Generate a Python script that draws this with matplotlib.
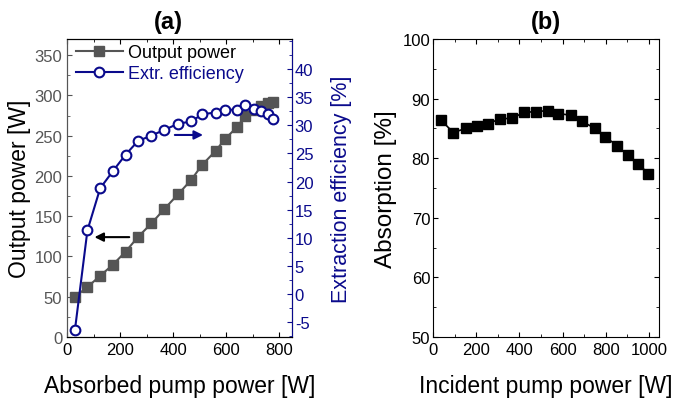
import matplotlib
matplotlib.use('Agg')  # no display

import matplotlib.pyplot as plt
from matplotlib import ticker

plt.rcParams.update({
    "font.family": ["Liberation Sans", "DejaVu Sans"],
    "axes.unicode_minus": False,
    "xtick.direction": "in",
    "ytick.direction": "in",
    "xtick.labelsize": 12,
    "ytick.labelsize": 12,
})

# (a) output power and extraction efficiency vs absorbed pump power
absorbed_pump = [30, 77, 125, 172, 221, 267, 318, 367, 418, 468, 510, 560,
                 596, 642, 670, 705, 731, 756, 777]
output_power = [50, 62, 76, 89.5, 106, 124, 141, 159, 177, 195, 214, 231,
                246, 261, 274, 282, 287, 290, 292]
extr_eff = [-6.4, 11.3, 18.8, 21.8, 24.8, 27.2, 28.2, 29.2, 30.3, 30.7, 32.0,
            32.3, 32.8, 32.8, 33.6, 32.9, 32.6, 32.0, 31.1]
eff_ticks = [-5, 0, 5, 10, 15, 20, 25, 30, 35, 40]

# (b) absorption vs incident pump power
incident_pump = [37, 94, 151, 202, 256, 310, 367, 421, 475, 534, 580, 639,
                 688, 750, 796, 853, 901, 951, 997]
absorption = [86.4, 84.3, 85.0, 85.4, 85.8, 86.6, 86.7, 87.7, 87.8, 88.0,
              87.5, 87.2, 86.2, 85.0, 83.6, 82.1, 80.5, 79.0, 77.4]

gray = '#555555'
blue = '#0a0a8c'

W, H = 685, 402
fig = plt.figure(figsize=(W/100, H/100), dpi=100)

# ---- panel (a)
ax1 = fig.add_axes([67/W, 64/H, 225/W, 298/H])
ax1.plot(absorbed_pump, output_power, '-s', color=gray, lw=1.5, ms=6.5,
         label='Output power')
ax1.set_xlim(0, 848)
ax1.set_ylim(0, 370)
ax1.xaxis.set_major_locator(ticker.MultipleLocator(200))
ax1.xaxis.set_minor_locator(ticker.MultipleLocator(100))
ax1.yaxis.set_major_locator(ticker.MultipleLocator(50))
ax1.yaxis.set_minor_locator(ticker.MultipleLocator(25))
ax1.tick_params(axis='x', which='both', top=True)
ax1.tick_params(axis='y', which='both', colors=gray, labelcolor=gray)
ax1.spines['left'].set_color(gray)
ax1.set_xlabel('Absorbed pump power [W]', fontsize=16.5, labelpad=12)
ax1.set_ylabel('Output power [W]', fontsize=16.5, labelpad=2)

ax1b = ax1.twinx()
ax1b.plot(absorbed_pump, extr_eff, '-o', color=blue, lw=1.5, ms=7,
          mfc='white', mew=1.5, label='Extr. efficiency')
ax1b.set_ylim(-7.7, 45.4)
ax1b.set_yticks(eff_ticks)
ax1b.yaxis.set_minor_locator(ticker.MultipleLocator(2.5))
ax1b.tick_params(axis='y', which='both', colors=blue, labelcolor=blue, pad=2)
ax1b.spines['right'].set_color(blue)
ax1b.spines['left'].set_color(gray)
ax1b.set_ylabel('Extraction efficiency [%]', fontsize=15.5, color=blue,
                labelpad=13)

h1, l1 = ax1.get_legend_handles_labels()
h2, l2 = ax1b.get_legend_handles_labels()
leg = ax1b.legend(h1 + h2, l1 + l2, loc='upper left', frameon=False,
                  fontsize=13, handlelength=2.6, handletextpad=0.3,
                  borderaxespad=0.2, labelspacing=0.25,
                  bbox_to_anchor=(-0.01, 1.02))
leg.get_texts()[1].set_color(blue)

# arrows pointing to the matching axis
ax1.annotate('', xy=(93, 124), xytext=(245, 124),
             arrowprops=dict(arrowstyle='-|>', color='black', lw=1.5,
                             mutation_scale=13))
ax1b.annotate('', xy=(523, 28.3), xytext=(396, 28.3),
              arrowprops=dict(arrowstyle='-|>', color=blue, lw=1.5,
                              mutation_scale=13))

fig.text(168/W, 1 - 23/H, '(a)', ha='center', va='center', fontsize=17,
         fontweight='bold')

# ---- panel (b)
ax2 = fig.add_axes([433/W, 64/H, 226/W, 298/H])
ax2.plot(incident_pump, absorption, '-s', color='black', lw=1.2, ms=7)
ax2.set_xlim(0, 1046)
ax2.set_ylim(50, 100)
ax2.xaxis.set_major_locator(ticker.MultipleLocator(200))
ax2.xaxis.set_minor_locator(ticker.MultipleLocator(100))
ax2.yaxis.set_major_locator(ticker.MultipleLocator(10))
ax2.yaxis.set_minor_locator(ticker.MultipleLocator(5))
ax2.tick_params(which='both', top=True, right=True)
ax2.tick_params(axis='y', pad=2)
ax2.set_xlabel('Incident pump power [W]', fontsize=16.5, labelpad=12)
ax2.set_ylabel('Absorption [%]', fontsize=17.5, labelpad=4)

fig.text(546/W, 1 - 23/H, '(b)', ha='center', va='center', fontsize=17,
         fontweight='bold')

fig.savefig('out.png', dpi=100)
